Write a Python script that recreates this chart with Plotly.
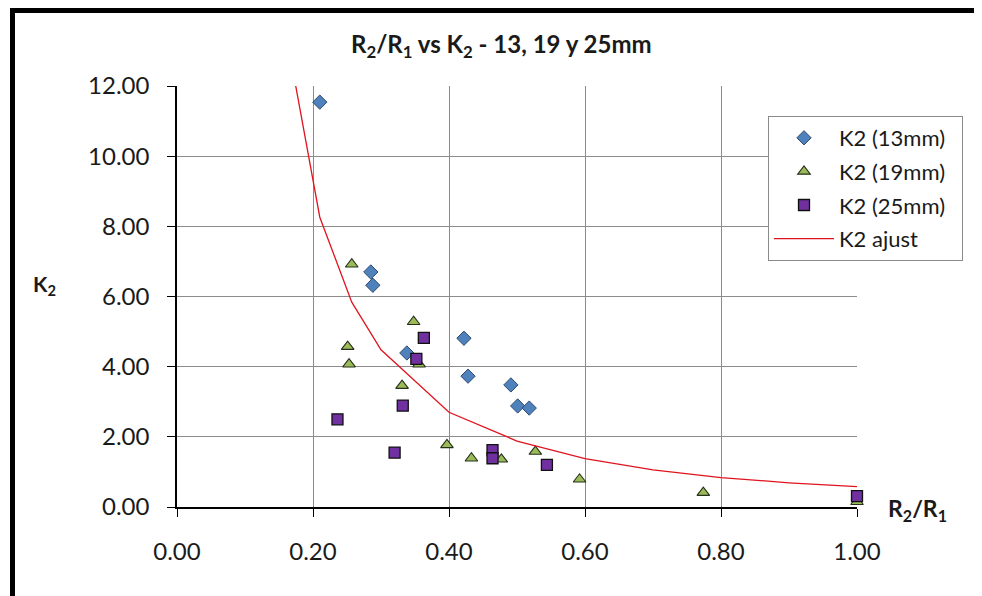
import plotly.graph_objects as go

# ---- data ----
x_13 = [0.210, 0.285, 0.288, 0.338, 0.422, 0.428, 0.491, 0.501, 0.518]
k2_13 = [11.54, 6.70, 6.32, 4.39, 4.81, 3.73, 3.48, 2.88, 2.82]

x_19 = [0.257, 0.348, 0.251, 0.253, 0.356, 0.331, 0.397, 0.433, 0.477, 0.527, 0.592, 0.774, 1.000]
k2_19 = [6.92, 5.28, 4.57, 4.07, 4.07, 3.46, 1.77, 1.39, 1.36, 1.58, 0.79, 0.41, 0.15]

x_25 = [0.363, 0.352, 0.332, 0.236, 0.320, 0.464, 0.464, 0.544, 1.000]
k2_25 = [4.82, 4.22, 2.89, 2.50, 1.55, 1.62, 1.39, 1.20, 0.31]

x_fit = [0.15, 0.21, 0.257, 0.30, 0.40, 0.50, 0.60, 0.70, 0.80, 0.90, 1.00]
k2_fit = [14.6, 8.26, 5.84, 4.48, 2.70, 1.88, 1.38, 1.06, 0.84, 0.69, 0.58]

x_ticks = [0.0, 0.2, 0.4, 0.6, 0.8, 1.0]
y_ticks = [0, 2, 4, 6, 8, 10, 12]

FONT = "Lato"
TXT = "#1a1a1a"
PAD = "\u00a0\u00a0"

fig = go.Figure()
fig.add_trace(go.Scatter(
    x=x_13, y=k2_13, mode="markers", name="K2 (13mm)" + PAD, cliponaxis=False,
    legendgroup="a",
    marker=dict(symbol="diamond", size=11, color="#4F81BD",
                line=dict(color="#2E4A6E", width=1))))
fig.add_trace(go.Scatter(
    x=x_19, y=k2_19, mode="markers", name="K2 (19mm)", cliponaxis=False,
    legendgroup="b",
    marker=dict(symbol="triangle-up", size=11, color="#9BBB59",
                line=dict(color="#26301a", width=1.1))))
fig.add_trace(go.Scatter(
    x=x_25, y=k2_25, mode="markers", name="K2 (25mm)", cliponaxis=False,
    legendgroup="c",
    marker=dict(symbol="square", size=11, color="#7030A0",
                line=dict(color="#111111", width=1.3))))
fig.add_trace(go.Scatter(
    x=x_fit, y=k2_fit, mode="lines", name="K2 ajust", legendgroup="d",
    line=dict(color="#E0141E", width=1.3)))

# page body adds an 8px offset; positions below are given in window pixels
OFF = 8
W, H = 982, 596
PL, PR, PT, PB = 177, 857, 86, 507          # plot area in window pixels
L, T = PL - OFF, PT - OFF
R, B = W - (PR - OFF), H - (PB - OFF)
pw, ph = PR - PL, PB - PT


def px(xw):
    return (xw - PL) / pw


def py(yw):
    return (PB - yw) / ph


fig.update_layout(
    width=W, height=H,
    margin=dict(l=L, r=R, t=T, b=B),
    paper_bgcolor="white", plot_bgcolor="white",
    font=dict(family=FONT, color=TXT, size=22),
    showlegend=True,
    legend=dict(x=px(768), y=py(116), xanchor="left", yanchor="top",
                bgcolor="white", bordercolor="#8a8a8a", borderwidth=1,
                font=dict(family=FONT, size=22, color=TXT),
                itemwidth=60, tracegroupgap=2),
    xaxis=dict(range=[0, 1.0], tickvals=x_ticks, tickformat=".2f",
               showgrid=True, gridcolor="#8c8c8c", gridwidth=1,
               zeroline=False, showline=True, linecolor="black", linewidth=1.5,
               ticks="outside", ticklen=8, tickcolor="black", tickwidth=1,
               ticklabelstandoff=14,
               tickfont=dict(family=FONT, size=24, color=TXT)),
    yaxis=dict(range=[0, 12], tickvals=y_ticks, tickformat=".2f",
               showgrid=True, gridcolor="#8c8c8c", gridwidth=1,
               zeroline=False, showline=True, linecolor="black", linewidth=1.5,
               ticks="outside", ticklen=8, tickcolor="black", tickwidth=1,
               ticklabelstandoff=13,
               tickfont=dict(family=FONT, size=24, color=TXT)),
)

fig.add_annotation(xref="paper", yref="paper", x=px(501), y=py(46),
                   text="<b>R<sub>2</sub>/R<sub>1</sub> vs K<sub>2</sub> - 13, 19 y 25mm</b>",
                   showarrow=False, font=dict(family=FONT, size=24, color=TXT),
                   xanchor="center", yanchor="middle")
fig.add_annotation(xref="paper", yref="paper", x=px(44), y=py(285),
                   text="<b>K<sub>2</sub></b>", showarrow=False,
                   font=dict(family=FONT, size=21, color=TXT),
                   xanchor="center", yanchor="middle")
fig.add_annotation(xref="paper", yref="paper", x=px(918), y=py(509),
                   text="<b>R<sub>2</sub>/R<sub>1</sub></b>", showarrow=False,
                   font=dict(family=FONT, size=23, color=TXT),
                   xanchor="center", yanchor="middle")

# black frame of the original screenshot (left and top edges)
fig.add_shape(type="rect", xref="paper", yref="paper",
              x0=px(10), x1=px(15), y0=py(610), y1=py(8),
              fillcolor="black", line=dict(width=0), layer="above")
fig.add_shape(type="rect", xref="paper", yref="paper",
              x0=px(10), x1=px(1000), y0=py(13), y1=py(8),
              fillcolor="black", line=dict(width=0), layer="above")

fig.write_html("out.html")
